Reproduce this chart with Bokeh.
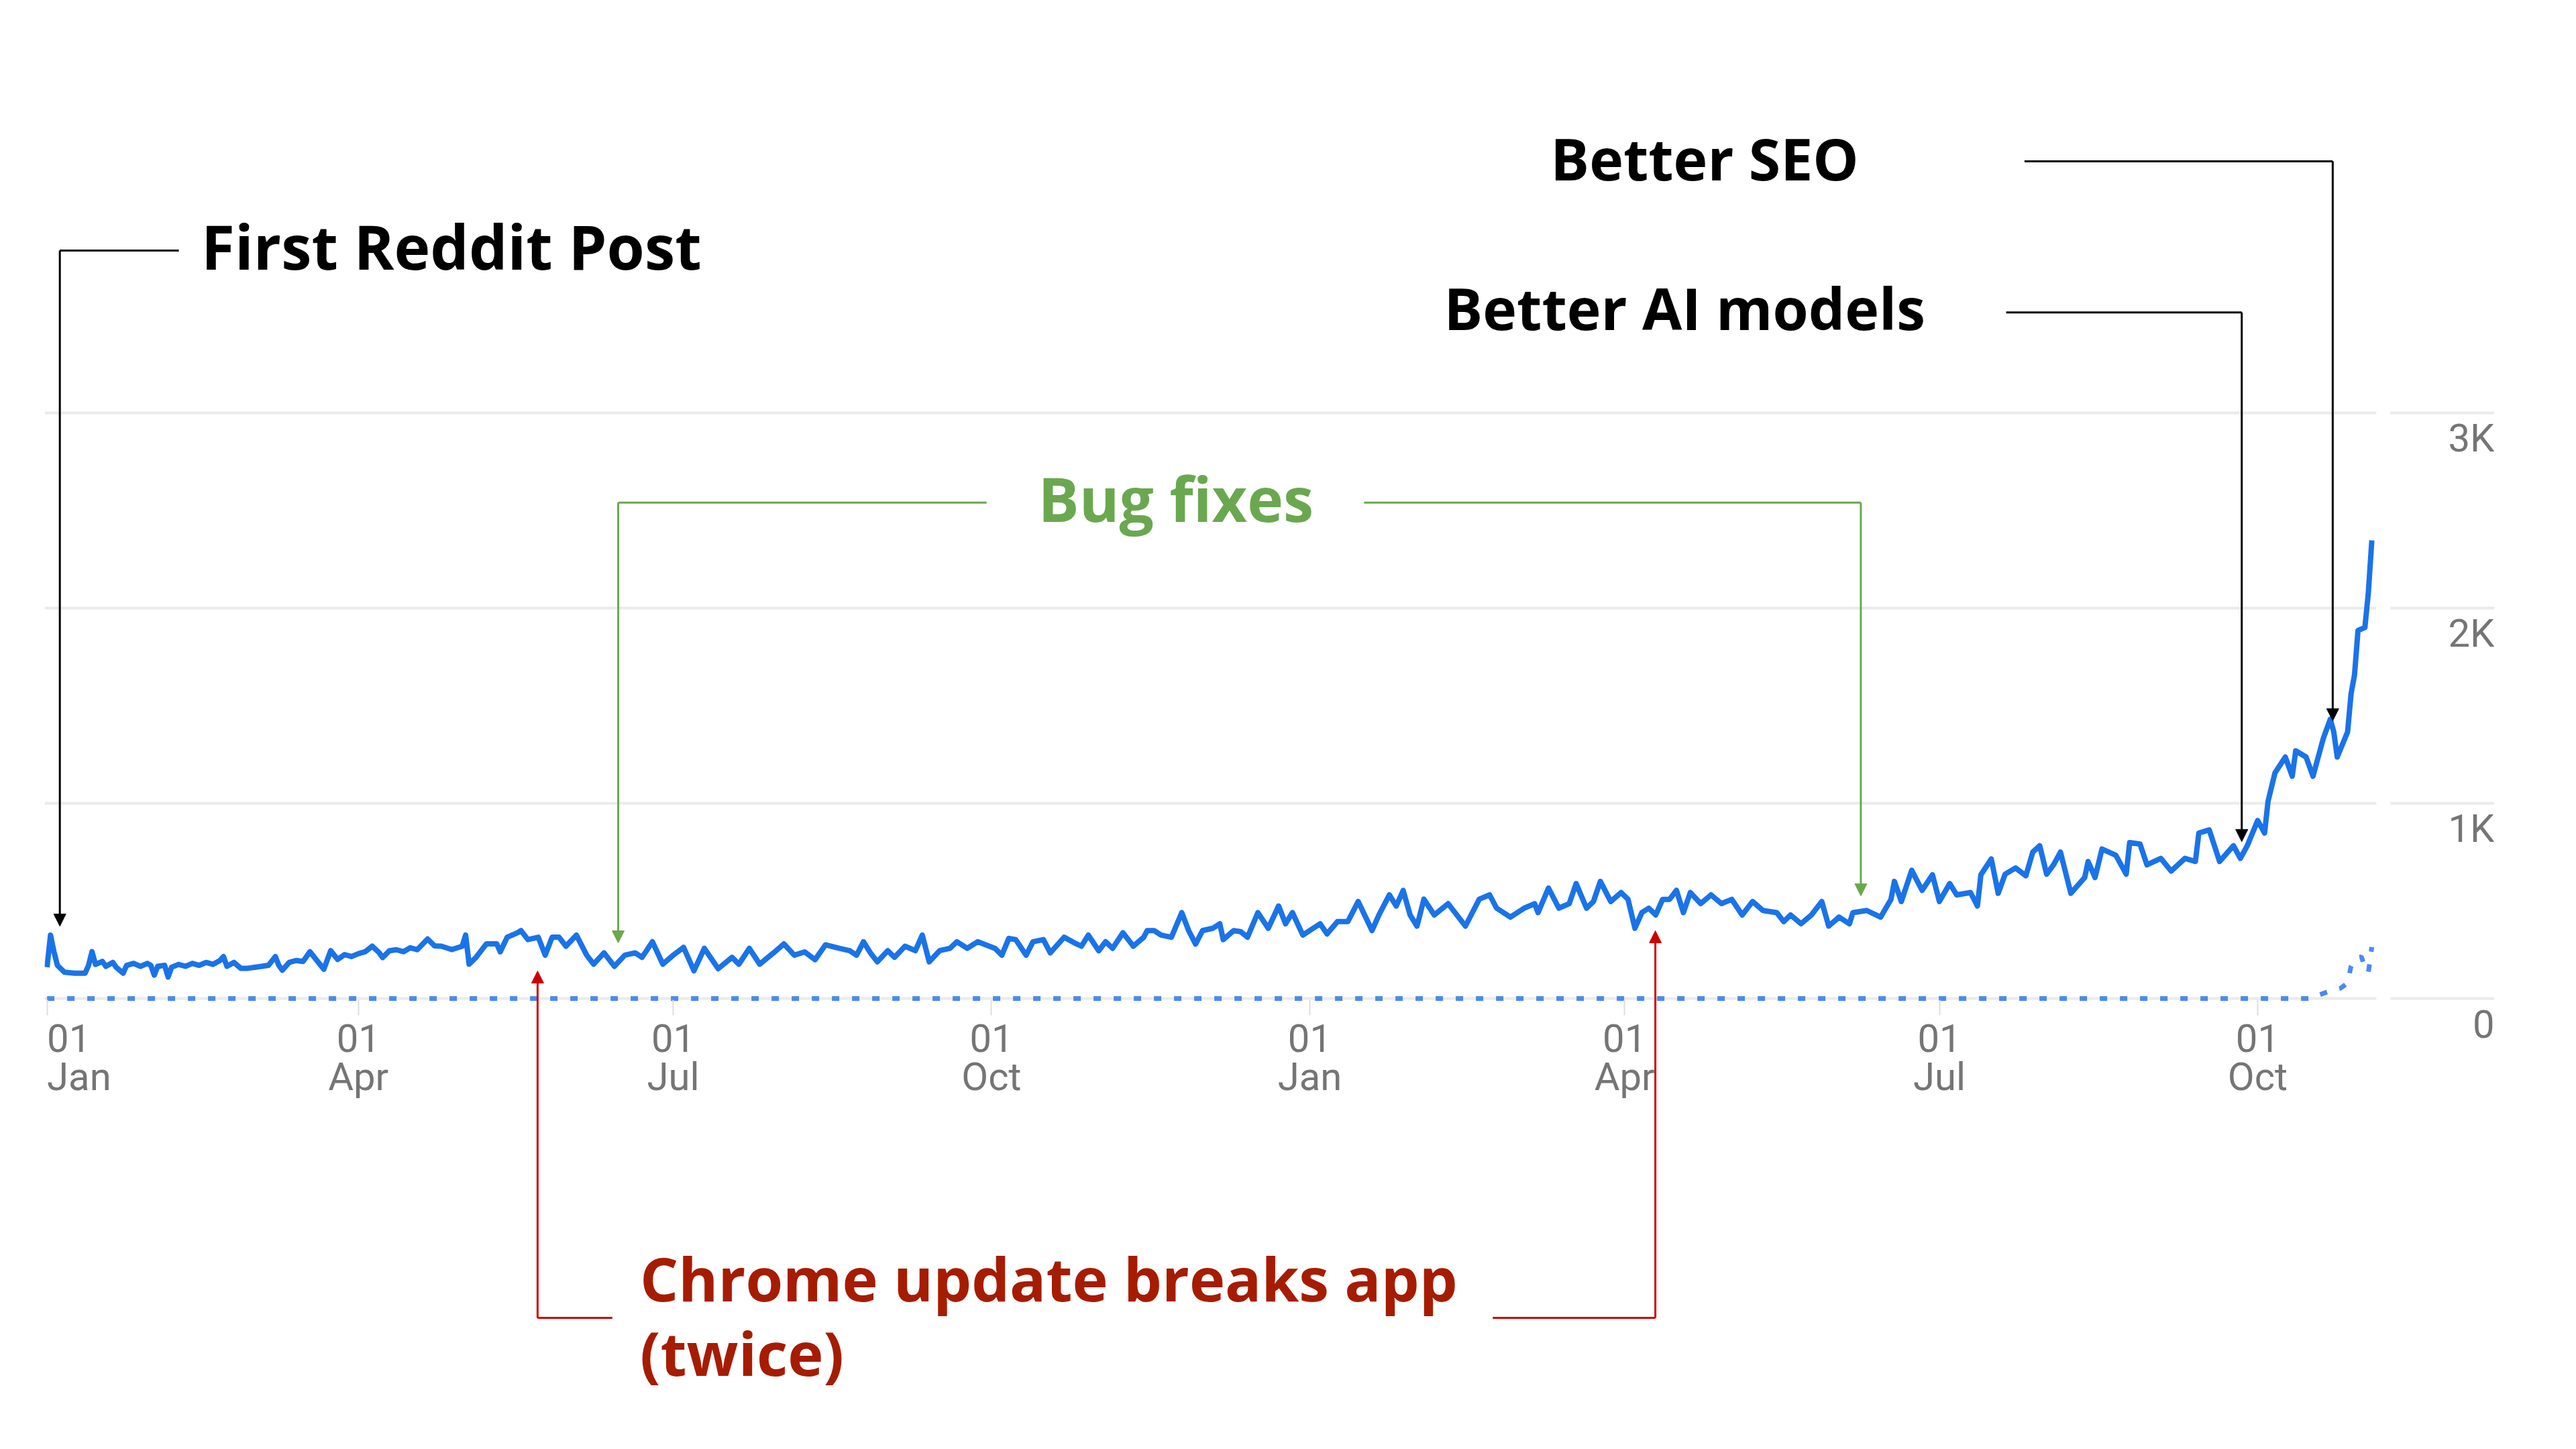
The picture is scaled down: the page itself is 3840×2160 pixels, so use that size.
import pandas as pd
from bokeh.plotting import figure
from bokeh.models import (Range1d, FixedTicker, DatetimeTickFormatter, Arrow,
                          NormalHead, BoxAnnotation, ColumnDataSource)
from bokeh.core.properties import value
from bokeh.embed import file_html
from bokeh.resources import INLINE

# ---------------- data ----------------
START = "2023-01-01"
# day offset since START, daily users
days = [0, 1, 2, 3, 5, 8, 11, 12, 13, 14, 16, 17, 19, 20, 22, 23, 25, 27, 29, 30,
        31, 32, 34, 35, 36, 38, 40, 42, 44, 46, 48, 50, 51, 52, 54, 56, 58, 60, 62, 64,
        66, 67, 68, 70, 72, 74, 76, 78, 80, 82, 84, 86, 88, 90, 92, 94, 96, 97, 99, 101,
        103, 105, 107, 110, 112,
        114, 117, 120, 121, 122, 124, 127, 130, 131, 133, 136, 137, 139, 142, 144, 146,
        148, 150, 153, 156, 158, 161, 164, 167, 170, 172, 175, 178, 181, 184, 187, 190,
        194, 198, 200, 203, 206, 210, 213, 216, 219, 222, 225,
        229, 232, 234, 236, 238, 240, 243, 245, 248, 251, 253, 255, 258, 261, 263, 266,
        269, 274, 276, 278, 280, 283, 285, 288, 290, 294, 297, 299, 301, 304, 306, 308,
        311, 314, 317, 318, 320, 322, 325, 328, 330, 332, 334, 337,
        339, 340, 343, 345, 347, 350, 353, 356, 358, 360, 363, 366, 368, 370, 373, 376,
        379, 383, 385, 388, 390, 392, 394, 396, 398, 401, 405, 408, 410, 414, 417, 419,
        423, 427, 430, 431, 434, 437, 440, 442, 445, 447, 449,
        452, 455, 457, 459, 461, 463, 465, 467, 469, 471, 473, 475, 478, 481, 484, 487,
        490, 493, 496, 500, 502, 504, 507, 510, 513, 515, 518, 521, 522, 526, 530, 533,
        534, 536, 539, 542, 545, 547, 550, 552, 556, 558, 559, 562,
        564, 566, 569, 572, 574, 576, 578, 580, 582, 585, 589, 590, 592, 594, 598, 601,
        602, 605, 607, 611, 614, 615, 618, 621, 622, 625, 628, 632, 634, 636, 639, 641,
        642, 644, 647, 649, 650, 653, 655, 658, 660, 661, 662, 665, 666, 667, 668, 670,
        671, 672]
users = [160, 325, 240, 170, 135, 130, 130, 170, 240, 175, 190, 165, 185, 160, 130, 170, 180, 165, 180, 170,
         120, 165, 170, 110, 160, 175, 165, 180, 170, 185, 175, 195, 215, 165, 185, 155, 155, 160, 165, 170,
         215, 170, 145, 185, 195, 190, 240, 195, 150, 245, 200, 225, 215, 230, 240, 268, 235, 210, 245, 250,
         240, 260, 250, 305, 270,
         268, 251, 268, 325, 176, 211, 280, 280, 239, 314, 337, 348, 302, 314, 222, 314,
         314, 268, 325, 222, 176, 234, 165, 222, 234, 211, 291, 176, 222, 262, 142, 257,
         153, 211, 176, 257, 176, 234, 280, 222, 239, 199, 275,
         257, 245, 222, 291, 234, 188, 245, 211, 268, 245, 325, 188, 245, 257, 291, 257,
         291, 257, 222, 308, 302, 222, 291, 302, 234, 314, 285, 268, 325, 245, 291, 257,
         337, 268, 314, 348, 348, 325, 314, 440, 348, 279, 348, 360,
         383, 302, 348, 343, 314, 440, 360, 474, 383, 440, 325, 360, 383, 331, 394, 394,
         497, 348, 428, 531, 474, 554, 428, 371, 509, 428, 486, 417, 371, 509, 531, 463,
         417, 463, 486, 440, 566, 463, 486, 589, 463, 497, 600,
         497, 543, 508, 360, 440, 463, 428, 508, 508, 554, 440, 543, 486, 531, 486, 508,
         428, 497, 451, 440, 394, 428, 383, 428, 497, 371, 417, 383, 440, 451, 417, 508,
         600, 497, 657, 554, 634, 497, 589, 531, 543, 474, 634, 715,
         539, 637, 669, 629, 750, 783, 637, 685, 750, 539, 620, 702, 620, 766, 734, 637,
         799, 791, 685, 718, 653, 669, 718, 702, 848, 864, 702, 783, 718, 783, 912, 848,
         1010, 1156, 1237, 1139, 1269, 1237, 1139, 1334, 1431, 1366, 1237, 1366, 1561, 1658, 1885, 1901,
         2080, 2347]

# comparison period (dotted)
prev_days = [0, 655, 657, 661, 663, 665, 666, 667, 669, 670, 671, 672]
prev_users = [0, 0, 20, 45, 53, 80, 166, 199, 215, 158, 134, 264]

tick_dates = ["2023-01-01", "2023-04-01", "2023-07-01", "2023-10-01",
              "2024-01-01", "2024-04-01", "2024-07-01", "2024-10-01"]
y_ticks = [0, 1000, 2000, 3000]
y_tick_labels = ["0", "1K", "2K", "3K"]


def ms(d):
    return (pd.Timestamp(START) + pd.Timedelta(days=d)).value / 1e6


def ms_date(s):
    return pd.Timestamp(s).value / 1e6


# ---------------- layout / styling ----------------
X_START, X_END = -0.7, 707.46
p = figure(width=3840, height=2160, x_axis_type="datetime",
           x_range=Range1d(ms(X_START), ms(X_END)),
           y_range=Range1d(-2309.3, 5113.4),
           toolbar_location=None, output_backend="svg",
           min_border_left=66, min_border_right=122,
           min_border_top=0, min_border_bottom=0)
p.outline_line_color = None
p.background_fill_color = "white"
p.xgrid.visible = False
p.yaxis.visible = False
p.ygrid.ticker = FixedTicker(ticks=y_ticks)
p.ygrid.grid_line_color = "#ebebeb"
p.ygrid.grid_line_width = 4

tick_ms = [ms_date(t) for t in tick_dates]
xa = p.xaxis[0]
xa.ticker = FixedTicker(ticks=tick_ms)
xa.formatter = DatetimeTickFormatter(days="%d", months="%d", years="%d")
xa.major_label_overrides = {t: "" for t in tick_ms}
xa.fixed_location = -41
xa.axis_line_color = None
xa.major_tick_in = 10
xa.major_tick_out = 13
xa.major_tick_line_color = "#dddddd"
xa.major_tick_line_width = 2
xa.minor_tick_line_color = None

# gap between plot and the value labels
p.add_layout(BoxAnnotation(left=ms(673.3), right=ms(677.4), bottom=-150, top=3150,
                           fill_color="white", fill_alpha=1.0, line_color=None))

# series
p.line([ms(d) for d in prev_days], prev_users, line_color="#4a8af4",
       line_width=7, line_dash="11 19")
p.line([ms(d) for d in days], users, line_color="#1a73e8", line_width=8,
       line_join="round")

AX_FONT = dict(text_font=value("Roboto"), text_font_size="58px", text_color="#757575",
               text_baseline="alphabetic")

# value labels on the right
ysrc = ColumnDataSource(dict(x=[ms(X_END)] * len(y_ticks), y=y_ticks, t=y_tick_labels))
p.text(x="x", y="y", text="t", source=ysrc, text_align="right", y_offset=38, **AX_FONT)

# date labels (day / month on two rows)
xsrc = ColumnDataSource(dict(
    x=tick_ms, y=[0] * len(tick_ms),
    day=[pd.Timestamp(t).strftime("%d") for t in tick_dates],
    mon=[pd.Timestamp(t).strftime("%b") for t in tick_dates],
    align=["left"] + ["center"] * (len(tick_ms) - 1)))
p.text(x="x", y="y", text="day", source=xsrc, text_align="align", y_offset=59, **AX_FONT)
p.text(x="x", y="y", text="mon", source=xsrc, text_align="align", y_offset=117, **AX_FONT)

# ---------------- annotations ----------------
BLACK, GREEN, RED = "#000000", "#6aa84f", "#cc0000"
GREEN_TXT, RED_TXT = "#6aa84f", "#a61c00"

# (label, day, baseline value, size, colour)
labels = [
    ("First Reddit Post", 44.6, 3853, "91px", BLACK),
    ("Better SEO", 434.6, 4305, "86px", BLACK),
    ("Better AI models", 403.8, 3538, "86px", BLACK),
    ("Bug fixes", 286.5, 2562, "91px", GREEN_TXT),
    ("Chrome update breaks app", 171.4, -1433, "90px", RED_TXT),
    ("(twice)", 171.4, -1814, "90px", RED_TXT),
]
for txt, d, v, sz, c in labels:
    p.text(x=[ms(d)], y=[v], text=[txt], text_font=value("Open Sans"),
           text_font_style="bold", text_font_size=sz, text_color=c,
           text_baseline="alphabetic", text_align="left")

# connectors: (elbow start day, tip day, elbow value, tip value, colour)
connectors = [
    (38.1, 3.7, 3832, 371, BLACK),
    (571.6, 660.7, 4289, 1423, BLACK),
    (566.3, 634.4, 3515, 804, BLACK),
    (271.6, 165.1, 2540, 285, GREEN),
    (380.7, 524.3, 2540, 526, GREEN),
    (163.4, 141.8, -1636, 141, RED),
    (417.9, 464.9, -1636, 347, RED),
]
for d0, d1, ve, vt, c in connectors:
    p.line([ms(d0), ms(d1)], [ve, ve], line_color=c, line_width=3)
    p.add_layout(Arrow(x_start=ms(d1), y_start=ve, x_end=ms(d1), y_end=vt,
                       line_color=c, line_width=3,
                       end=NormalHead(size=18, fill_color=c, line_color=c)))

open("out.html", "w").write(file_html(p, INLINE))
